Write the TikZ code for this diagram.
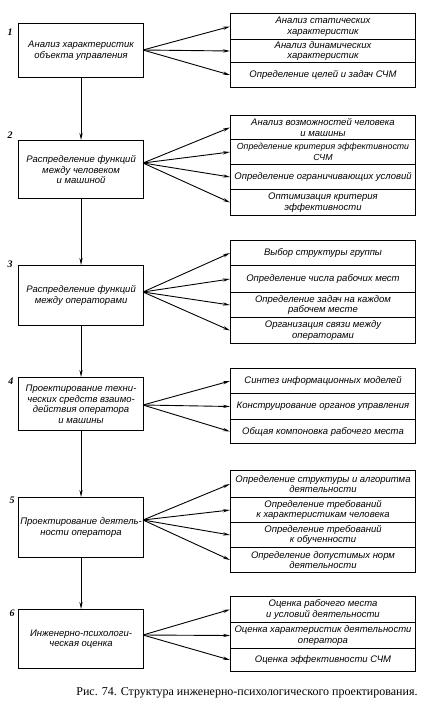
\documentclass[tikz,border=0pt]{standalone}
\usepackage{fontspec}
\setmainfont{Liberation Serif}
\newfontfamily\dsans{Liberation Sans}
\usetikzlibrary{arrows.meta}
\newcommand\myboxfont{\dsans\itshape\fontsize{9.5}{10.5}\selectfont}
\newcommand\mysmallboxfont{\dsans\itshape\fontsize{8.8}{10.5}\selectfont}
\newcommand\mynumfont{\rmfamily\itshape\bfseries\fontsize{10}{11}\selectfont}
\tikzset{
  lbox/.style={draw, line width=1.1pt, anchor=north west, minimum width=125pt, inner sep=0pt, align=center, font=\myboxfont},
  rbox/.style={draw, line width=1pt, anchor=north west, minimum width=185pt, inner sep=0pt, align=center, font=\myboxfont},
  num/.style={font=\mynumfont, inner sep=0pt},
  arr/.style={-{Stealth[length=7pt,width=3.2pt]}, line width=0.9pt},
  capt/.style={font=\rmfamily\fontsize{12}{14}\selectfont, inner sep=0pt}
}
\begin{document}
\begin{tikzpicture}[x=1pt,y=-1pt]
\useasboundingbox (0,0) rectangle (430,720);
% left boxes
\node[lbox, minimum height=54pt] (b1) at (18,23) {Анализ характеристик\\объекта управления};
\node[lbox, minimum height=58pt] (b2) at (18,140) {Распределение функций\\между человеком\\и машиной};
\node[lbox, minimum height=60pt] (b3) at (18,265) {Распределение функций\\между операторами};
\node[lbox, minimum height=53pt] (b4) at (18,377) {Проектирование техни-\\ческих средств взаимо-\\действия оператора\\и машины};
\node[lbox, minimum height=60pt] (b5) at (18,497) {Проектирование деятель-\\ности оператора};
\node[lbox, minimum height=59pt] (b6) at (18,609) {Инженерно-психологи-\\ческая оценка};
% numbers
\node[num] (n1) at (10,32) {1};
\node[num] (n2) at (10,135) {2};
\node[num] (n3) at (10,264) {3};
\node[num] (n4) at (11,381) {4};
\node[num] (n5) at (12,500) {5};
\node[num] (n6) at (12,613) {6};
% vertical connectors
\draw[arr] (b1.south) -- (b2.north);
\draw[arr] (b2.south) -- (b3.north);
\draw[arr] (b3.south) -- (b4.north);
\draw[arr] (b4.south) -- (b5.north);
\draw[arr] (b5.south) -- (b6.north);
% origins
\coordinate (o1) at (143,50);
\coordinate (o2) at (143,163);
\coordinate (o3) at (143,292);
\coordinate (o4) at (143,405);
\coordinate (o5) at (143,520);
\coordinate (o6) at (143,635);
% group 1
\node[rbox, minimum height=26pt] (r11) at (230,13) {Анализ статических\\характеристик};
\node[rbox, minimum height=23pt] (r12) at (230,39) {Анализ динамических\\характеристик};
\node[rbox, minimum height=25pt] (r13) at (230,62) {Определение целей и задач СЧМ};
% group 2
\node[rbox, minimum height=24pt] (r21) at (230,115) {Анализ возможностей человека\\и машины};
\node[rbox, minimum height=25pt, font=\mysmallboxfont] (r22) at (230,139) {Определение критерия эффективности\\СЧМ};
\node[rbox, minimum height=25pt] (r23) at (230,164) {Определение ограничивающих условий};
\node[rbox, minimum height=26pt] (r24) at (230,189) {Оптимизация критерия\\эффективности};
% group 3
\node[rbox, minimum height=25pt] (r31) at (230,240) {Выбор структуры группы};
\node[rbox, minimum height=27pt] (r32) at (230,265) {Определение числа рабочих мест};
\node[rbox, minimum height=25pt] (r33) at (230,292) {Определение задач на каждом\\рабочем месте};
\node[rbox, minimum height=26pt] (r34) at (230,317) {Организация связи между\\операторами};
% group 4
\node[rbox, minimum height=25pt] (r41) at (230,368) {Синтез информационных моделей};
\node[rbox, minimum height=26pt] (r42) at (230,393) {Конструирование органов управления};
\node[rbox, minimum height=24pt] (r43) at (230,419) {Общая компоновка рабочего места};
% group 5
\node[rbox, minimum height=27pt] (r51) at (230,470) {Определение структуры и алгоритма\\деятельности};
\node[rbox, minimum height=25pt] (r52) at (230,497) {Определение требований\\к характеристикам человека};
\node[rbox, minimum height=25pt] (r53) at (230,522) {Определение требований\\к обученности};
\node[rbox, minimum height=25pt] (r54) at (230,547) {Определение допустимых норм\\деятельности};
% group 6
\node[rbox, minimum height=26pt] (r61) at (230,596) {Оценка рабочего места\\и условий деятельности};
\node[rbox, minimum height=26pt] (r62) at (230,622) {Оценка характеристик деятельности\\оператора};
\node[rbox, minimum height=23pt] (r63) at (230,648) {Оценка эффективности СЧМ};
% fan arrows
\foreach \t in {r11,r12,r13} \draw[arr] (o1) -- (\t.west);
\foreach \t in {r21,r22,r23,r24} \draw[arr] (o2) -- (\t.west);
\foreach \t in {r31,r32,r33,r34} \draw[arr] (o3) -- (\t.west);
\foreach \t in {r41,r42,r43} \draw[arr] (o4) -- (\t.west);
\foreach \t in {r51,r52,r53,r54} \draw[arr] (o5) -- (\t.west);
\foreach \t in {r61,r62,r63} \draw[arr] (o6) -- (\t.west);
% caption
\node[capt] (cap) at (247,693) {Рис. 74. Структура инженерно-психологического проектирования.};
\end{tikzpicture}
\end{document}
